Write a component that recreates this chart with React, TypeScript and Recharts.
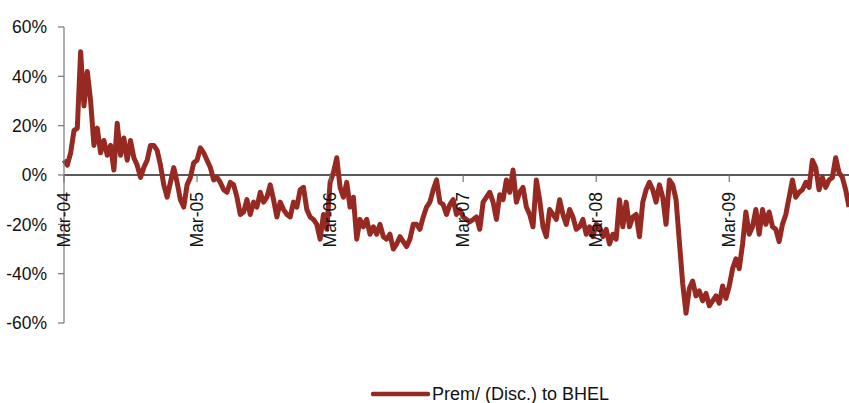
import React from "react";
import { LineChart, Line, XAxis, YAxis, ReferenceLine, ReferenceDot, Legend } from "recharts";

// Premium / (discount) of the stock versus BHEL, in %, sampled 40 times per year from Mar-04.
const fy2004: number[] = [6, 4, 9, 18, 19, 50, 28, 42, 30, 12, 19, 9, 14, 8, 12, 2, 21, 8, 15, 6, 14, 7, 4, -1, 3, 6, 12, 12, 10, 4, -4, -9, -3, 3, -3, -10, -13, -4, -1, 5];
const fy2005: number[] = [6, 11, 9, 6, 3, -2, -1, -3, -6, -7, -3, -4, -9, -16, -15, -10, -16, -11, -13, -7, -11, -9, -4, -10, -17, -11, -14, -16, -17, -11, -13, -6, -5, -14, -17, -18, -20, -26, -16, -22];
const fy2006: number[] = [-3, 1, 7, -5, -9, -3, -13, -9, -26, -18, -21, -18, -24, -21, -24, -20, -25, -26, -24, -30, -28, -25, -27, -29, -26, -20, -20, -22, -17, -13, -11, -6, -2, -11, -12, -16, -12, -10, -16, -14];
const fy2007: number[] = [-17, -18, -19, -18, -17, -22, -11, -9, -7, -11, -18, -8, -10, -2, -7, 2, -11, -7, -5, -13, -16, -21, -2, -10, -21, -25, -14, -16, -18, -10, -16, -20, -14, -17, -22, -21, -18, -24, -21, -25];
const fy2008: number[] = [-20, -21, -25, -22, -28, -24, -26, -10, -21, -11, -21, -17, -16, -25, -11, -6, -3, -6, -11, -4, -9, -20, -2, -4, -10, -27, -44, -56, -46, -43, -49, -47, -51, -48, -53, -51, -49, -52, -45, -50];
const fy2009: number[] = [-45, -38, -34, -38, -28, -15, -24, -21, -14, -24, -14, -20, -15, -21, -22, -27, -20, -16, -9, -2, -9, -7, -6, -3, -5, 6, 3, -6, -1, -5, -2, -1, 7, 1, -1, -6, -13];

const SAMPLES_PER_YEAR = 40;
const yearLabels: string[] = ["Mar-04", "Mar-05", "Mar-06", "Mar-07", "Mar-08", "Mar-09"];
const yTicks: number[] = [-60, -40, -20, 0, 20, 40, 60];
const seriesName = "Prem/ (Disc.) to BHEL";

const values = [...fy2004, ...fy2005, ...fy2006, ...fy2007, ...fy2008, ...fy2009];
const data = values.map((v, i) => ({ t: i, prem: v }));
const yearTicks = yearLabels.map((label, k) => ({ t: k * SAMPLES_PER_YEAR, label }));

const FONT = '"Liberation Sans", Arial, sans-serif';
const LINE_COLOR = "#962A22";
const TEXT_COLOR = "#111";

// Tick mark plus vertical label hanging below the zero line
const YearTick = (label: string) => (props: any) => {
  const { cx, cy } = props;
  const ty = cy + 17;
  return (
    <g>
      <line x1={cx} y1={cy} x2={cx} y2={cy + 7} stroke="#777" strokeWidth={1.2} />
      <text
        x={cx}
        y={ty}
        transform={`rotate(-90, ${cx}, ${ty})`}
        textAnchor="end"
        dominantBaseline="central"
        fontFamily={FONT}
        fontSize={17.5}
        fill={TEXT_COLOR}
      >
        {label}
      </text>
    </g>
  );
};

const LegendContent = () => (
  <div style={{ display: "flex", alignItems: "center", fontFamily: FONT, fontSize: 18, color: TEXT_COLOR, lineHeight: "20px", whiteSpace: "nowrap" }}>
    <svg width={59} height={8}>
      <line x1={2} y1={4} x2={57} y2={4} stroke={LINE_COLOR} strokeWidth={4.5} strokeLinecap="round" />
    </svg>
    <span style={{ marginLeft: 2 }}>{seriesName}</span>
  </div>
);

export default function App() {
  return (
    <div style={{ position: "absolute", left: 0, top: 0, background: "#fff" }}>
      <LineChart width={849} height={403} data={data} margin={{ top: 27, right: 0, bottom: 80, left: 0 }}>
        <XAxis type="number" dataKey="t" domain={[0, values.length - 1]} hide />
        <YAxis
          type="number"
          domain={[-60, 60]}
          ticks={yTicks}
          width={64}
          tickFormatter={(v: number) => `${v}%`}
          axisLine={{ stroke: "#777", strokeWidth: 1.2 }}
          tickLine={{ stroke: "#777", strokeWidth: 1.2 }}
          tickSize={6}
          tickMargin={11}
          tick={{ fontFamily: FONT, fontSize: 17.5, fill: TEXT_COLOR }}
        />
        <ReferenceLine y={0} stroke="#222" strokeWidth={1.3} />
        {yearTicks.map((yt) => (
          <ReferenceDot key={yt.label} x={yt.t} y={0} ifOverflow="visible" shape={YearTick(yt.label)} />
        ))}
        <Line
          type="linear"
          dataKey="prem"
          name={seriesName}
          stroke={LINE_COLOR}
          strokeWidth={5}
          strokeLinejoin="round"
          dot={false}
          isAnimationActive={false}
        />
        <Legend
          layout="horizontal"
          verticalAlign="middle"
          align="center"
          content={LegendContent}
          wrapperStyle={{ top: 384, left: 371, width: "auto" }}
        />
      </LineChart>
    </div>
  );
}
